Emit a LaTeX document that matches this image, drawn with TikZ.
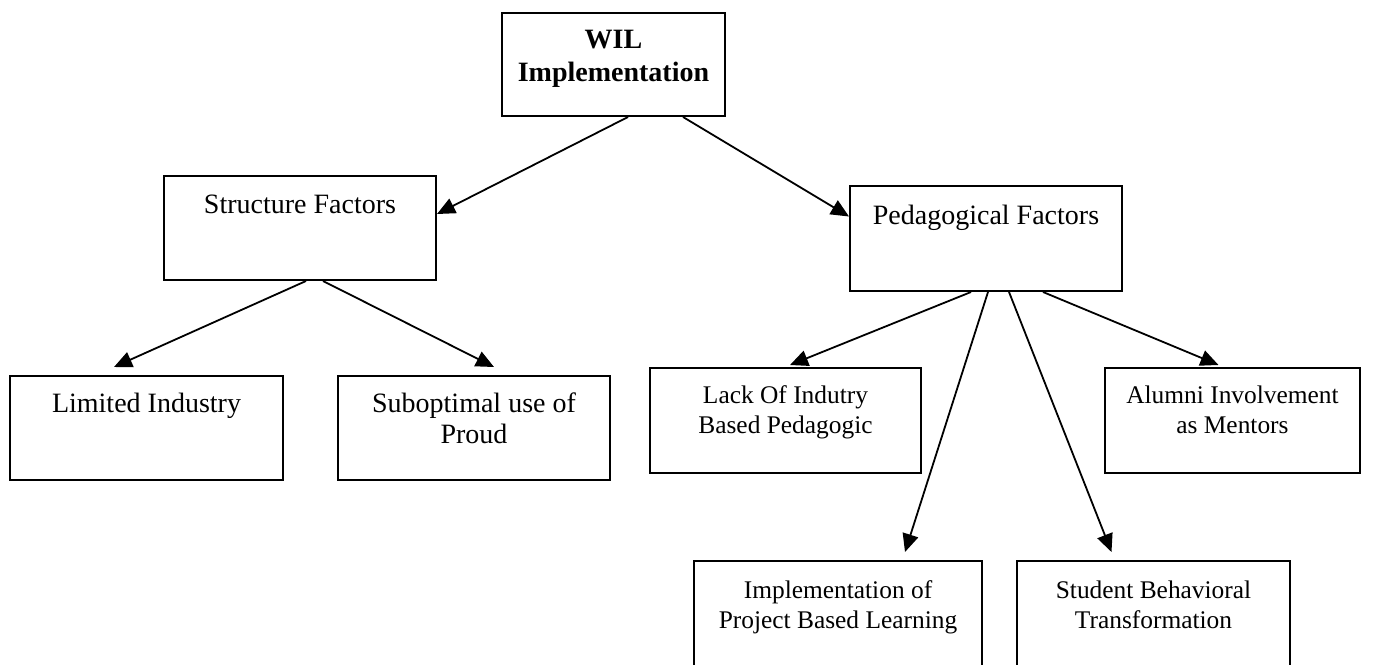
\documentclass[tikz,border=0pt]{standalone}
\usepackage{fontspec}
\setmainfont{Liberation Serif}
\usetikzlibrary{arrows.meta, positioning}

\tikzset{
  factor/.style={draw, line width=1pt, inner sep=0pt, anchor=north west},
  ftext/.style={align=center, inner sep=0pt, font=\fontsize{14}{15.5}\selectfont},
  fsmall/.style={align=center, inner sep=0pt, font=\fontsize{12.7}{15}\selectfont},
  link/.style={-{Triangle[length=9pt, width=8pt]}, line width=0.9pt}
}

\begin{document}
\begin{tikzpicture}[x=0.5pt, y=-0.5pt]
\clip (0,0) rectangle (1380,664);

% boxes
\node[factor, minimum width=111.5pt, minimum height=51.5pt] (wil) at (501,12) {};
\node[factor, minimum width=136pt, minimum height=52pt] (sf) at (163,175) {};
\node[factor, minimum width=136pt, minimum height=52.5pt] (pf) at (849,185) {};
\node[factor, minimum width=136.5pt, minimum height=52pt] (li) at (9,375) {};
\node[factor, minimum width=136pt, minimum height=52pt] (sub) at (337,375) {};
\node[factor, minimum width=135.5pt, minimum height=52.5pt] (lack) at (649,367) {};
\node[factor, minimum width=127.5pt, minimum height=52.5pt] (alum) at (1104,367) {};
\node[factor, minimum width=144pt, minimum height=65pt] (impl) at (693,560) {};
\node[factor, minimum width=136.5pt, minimum height=65pt] (stud) at (1016,560) {};

% texts
\node[ftext, font={\fontsize{14}{16.5}\selectfont\bfseries}, below=9pt of wil.north] (wilt) {WIL\\Implementation};
\node[ftext, below=10pt of sf.north] (sft) {Structure Factors};
\node[ftext, below=10pt of pf.north] (pft) {Pedagogical Factors};
\node[ftext, below=9pt of li.north] (lit) {Limited Industry};
\node[ftext, below=8.5pt of sub.north] (subt) {Suboptimal use of\\Proud};
\node[fsmall, below=9pt of lack.north] (lackt) {Lack Of Indutry\\Based Pedagogic};
\node[fsmall, below=9pt of alum.north] (alumt) {Alumni Involvement\\as Mentors};
\node[fsmall, below=10pt of impl.north] (implt) {Implementation of\\Project Based Learning};
\node[fsmall, below=10pt of stud.north] (studt) {Student Behavioral\\Transformation};

% arrows
\draw[link] ([xshift=7.25pt]wil.south) -- ([yshift=7pt]sf.east);
\draw[link] ([xshift=34.75pt]wil.south) -- ([yshift=11pt]pf.west);
\draw[link] ([xshift=3pt]sf.south) -- ([xshift=-16.25pt, yshift=4pt]li.north);
\draw[link] ([xshift=11.5pt]sf.south) -- ([xshift=10pt, yshift=4pt]sub.north);
\draw[link] ([xshift=-7.5pt]pf.south) -- ([xshift=2.25pt, yshift=1pt]lack.north);
\draw[link] ([xshift=1pt]pf.south) -- ([xshift=33.5pt, yshift=4pt]impl.north);
\draw[link] ([xshift=11.5pt]pf.south) -- ([xshift=-21pt, yshift=4pt]stud.north);
\draw[link] ([xshift=28.5pt]pf.south) -- ([xshift=-7pt, yshift=1pt]alum.north);
\end{tikzpicture}
\end{document}
